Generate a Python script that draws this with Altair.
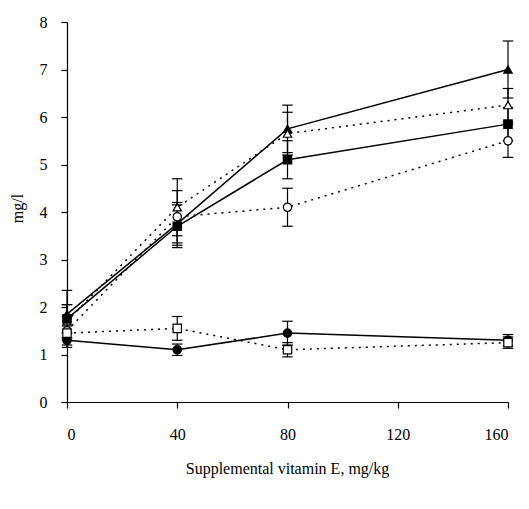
import altair as alt
import pandas as pd

dose = [0, 40, 80, 160]

series_names = ["s1", "s2", "s3", "s4", "s5", "s6"]
series_style = ["solid", "dotted", "solid", "dotted", "solid", "dotted"]
series_shape = ["triangle-up", "triangle-up", "square", "circle", "circle", "square"]
series_filled = [True, False, True, False, True, False]

s1 = [1.85, 3.75, 5.75, 7.0]
s2 = [1.7, 4.1, 5.65, 6.25]
s3 = [1.75, 3.7, 5.1, 5.85]
s4 = [1.5, 3.9, 4.1, 5.5]
s5 = [1.3, 1.1, 1.45, 1.3]
s6 = [1.45, 1.55, 1.1, 1.25]

e1 = [0.5, 0.45, 0.5, 0.6]
e2 = [0.35, 0.6, 0.45, 0.35]
e3 = [0.3, 0.45, 0.4, 0.35]
e4 = [0.3, 0.55, 0.4, 0.35]
e5 = [0.15, 0.12, 0.25, 0.12]
e6 = [0.15, 0.25, 0.15, 0.12]

vals = [s1, s2, s3, s4, s5, s6]
errs = [e1, e2, e3, e4, e5, e6]

rows = []
for i, name in enumerate(series_names):
    for j, d in enumerate(dose):
        rows.append({
            "series": name,
            "style": series_style[i],
            "shape": series_shape[i],
            "fillc": "black" if series_filled[i] else "white",
            "dose": d,
            "v": vals[i][j],
            "lo": vals[i][j] - errs[i][j],
            "hi": vals[i][j] + errs[i][j],
        })
df = pd.DataFrame(rows)

xs = alt.Scale(domain=[0, 160], nice=False)
ys = alt.Scale(domain=[0, 8], nice=False)

xaxis = alt.Axis(values=[0, 40, 80, 120, 160], title="Supplemental vitamin E, mg/kg",
                 grid=False, tickSize=6, labelPadding=18, titleX=220, titleY=66,
                 titleBaseline="middle")
yaxis = alt.Axis(values=[0, 1, 2, 3, 4, 5, 6, 7, 8], title="mg/l", grid=False,
                 tickSize=6, labelPadding=14, titleX=-50, titleY=186,
                 titleAlign="center", titleBaseline="middle")

base = alt.Chart(df)

x_enc = alt.X("dose:Q", scale=xs, axis=xaxis)
y_enc = alt.Y("v:Q", scale=ys, axis=yaxis)

solid = base.transform_filter(alt.datum.style == "solid").mark_line(
    color="black", strokeWidth=1.5).encode(x=x_enc, y=y_enc, detail="series:N")
dotted = base.transform_filter(alt.datum.style == "dotted").mark_line(
    color="black", strokeWidth=1.5, strokeDash=[2, 5]).encode(
    x=alt.X("dose:Q", scale=xs), y=alt.Y("v:Q", scale=ys), detail="series:N")

rules = base.mark_rule(color="black", strokeWidth=1.2).encode(
    x=alt.X("dose:Q", scale=xs), y=alt.Y("lo:Q", scale=ys), y2="hi:Q")
cap_path = "M -1 0 L 1 0"
caps_lo = base.mark_point(shape=cap_path, size=110, color="black", strokeWidth=1.2,
                          filled=False, opacity=1).encode(
    x=alt.X("dose:Q", scale=xs), y=alt.Y("lo:Q", scale=ys))
caps_hi = base.mark_point(shape=cap_path, size=110, color="black", strokeWidth=1.2,
                          filled=False, opacity=1).encode(
    x=alt.X("dose:Q", scale=xs), y=alt.Y("hi:Q", scale=ys))

points = base.mark_point(size=70, stroke="black", strokeWidth=1.2, opacity=1,
                         filled=True).encode(
    x=alt.X("dose:Q", scale=xs), y=alt.Y("v:Q", scale=ys),
    shape=alt.Shape("shape:N", scale=None),
    fill=alt.Fill("fillc:N", scale=None))

chart = alt.layer(solid, dotted, rules, caps_lo, caps_hi, points).properties(
    width=441, height=380,
    background="white",
    autosize=alt.AutoSizeParams(type="none"),
    padding={"left": 59, "top": 14, "right": 13, "bottom": 90},
).configure_view(stroke=None).configure_axis(
    domainColor="black", tickColor="black", labelColor="black", titleColor="black",
    labelFont="Liberation Serif", titleFont="Liberation Serif",
    labelFontSize=16, titleFontSize=16, titleFontWeight="normal",
    domainWidth=1.2, tickWidth=1.2,
)

chart.save("out.html", embed_options={"renderer": "svg", "actions": False})
